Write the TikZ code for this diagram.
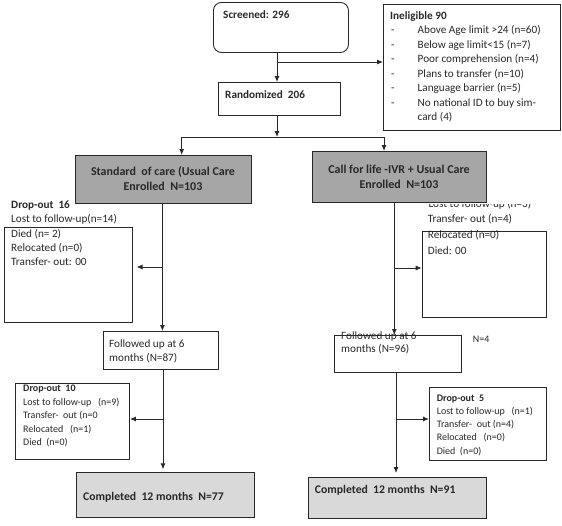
\documentclass[tikz,border=0pt]{standalone}
\usepackage{fontspec}
\setmainfont{Carlito}
\usetikzlibrary{arrows.meta}
\definecolor{grayA}{RGB}{166,166,166}
\definecolor{grayB}{RGB}{217,217,217}
\definecolor{ink}{RGB}{40,40,40}
\begin{document}
\begin{tikzpicture}[x=1pt,y=-1pt,
  box/.style={draw=ink, line width=0.9pt, inner sep=0pt, anchor=north west},
  arr/.style={draw=ink, line width=0.9pt, -{Latex[length=6pt,width=5pt]}},
  ln/.style={draw=ink, line width=0.9pt},
  t/.style={inner sep=0pt, anchor=base west, text=ink, font=\fontsize{11.2}{13}\selectfont},
  tb/.style={t, font=\fontsize{11.2}{13}\selectfont\bfseries},
  tc/.style={tb, anchor=base, font=\fontsize{12}{14}\selectfont\bfseries},
  ts/.style={t, font=\fontsize{10}{12}\selectfont},
  tsb/.style={t, font=\fontsize{10}{12}\selectfont\bfseries},
  tl/.style={tb, font=\fontsize{11.7}{14}\selectfont\bfseries}]
\useasboundingbox (0,0) rectangle (562,525);

% ---- boxes
\node[box, rounded corners=8pt, minimum width=135pt, minimum height=50pt] (scr) at (213,2) {};
\node[box, minimum width=177pt, minimum height=126pt] (inel) at (383,4) {};
\node[box, minimum width=122pt, minimum height=33pt] (rand) at (218,82) {};
\node[box, fill=grayA, minimum width=176pt, minimum height=48pt] (std) at (75,155) {};
% text whose upper part is hidden in the original
\begin{scope}
  \clip (420,204) rectangle (545,215);
  \node[t] (r1) at (428.3,207.7) {Lost to follow-up (n=3)};
\end{scope}
\node[box, fill=grayA, minimum width=174pt, minimum height=51pt] (call) at (312,151) {};
\node[box, minimum width=128pt, minimum height=95pt] (dl) at (3.6,227) {};
\node[box, minimum width=124pt, minimum height=86pt] (dr) at (421.7,231) {};
\node[box, minimum width=115pt, minimum height=38pt] (fu1) at (103,331) {};
\node[box, minimum width=127pt, minimum height=37pt] (fu2) at (334,335) {};
\node[box, minimum width=114pt, minimum height=76pt] (d10) at (15,383) {};
\node[box, minimum width=117pt, minimum height=73pt] (d5) at (429,387) {};
\node[box, fill=grayB, minimum width=178.5pt, minimum height=45pt] (c1) at (75.5,472.3) {};
\node[box, fill=grayB, minimum width=178.4pt, minimum height=41pt] (c2) at (308,477) {};

% ---- texts
\node[tb] (s1) at (223,18.5) {Screened: 296};
\node[tb] (i0) at (390,19.5) {Ineligible 90};
\foreach \k/\s in {0/Above Age limit >24 (n=60),1/Below age limit<15 (n=7),2/Poor comprehension (n=4),3/Plans to transfer (n=10),4/Language barrier (n=5),5/No national ID to buy sim-}{
  \node[t] (id\k) at (391,33.5+14.5*\k) {-};
  \node[t] (it\k) at (417.5,33.5+14.5*\k) {\s};
}
\node[t] (it6) at (417.5,120.8) {card (4)};
\node[tb] (rt) at (225,98) {Randomized\ \ 206};
\node[tc] (st1) at (163,175) {Standard\ \ of care (Usual Care};
\node[tc] (st2) at (163,190.7) {Enrolled\ \ N=103};
\node[tc] (ct1) at (399,173) {Call for life -IVR + Usual Care};
\node[tc] (ct2) at (399,188.5) {Enrolled\ \ N=103};

\node[tb] (l0) at (11,208) {Drop-out\ \ 16};
\node[t] (l1) at (11,222.5) {Lost to follow-up(n=14)};
\node[t] (l2) at (11,237) {Died (n= 2)};
\node[t] (l3) at (11,251.2) {Relocated (n=0)};
\node[t] (l4) at (11,265.8) {Transfer- out: 00};

\node[t] (r2) at (427.7,222.8) {Transfer- out (n=4)};
\node[t] (r3) at (427.7,238.5) {Relocated (n=0)};
\node[t] (r4) at (427.7,254) {Died: 00};

\node[t] (f11) at (109,347.5) {Followed up at 6};
\node[t] (f12) at (109,361.2) {months (N=87)};
\node[t] (f21) at (341,339) {Followed up at 6};
\node[t] (f22) at (341,352.8) {months (N=96)};
\node[ts] (n4) at (472.7,342.5) {N=4};

\node[tsb] (a0) at (23,391.3) {Drop-out\ \ 10};
\node[ts] (a1) at (23,405) {Lost to follow-up\ \ \ (n=9)};
\node[ts] (a2) at (23,418.3) {Transfer-\ \ out (n=0};
\node[ts] (a3) at (23,432) {Relocated\ \ \ (n=1)};
\node[ts] (a4) at (23,445.3) {Died\ \ (n=0)};

\node[tsb] (b0) at (436.6,401.8) {Drop-out\ \ 5};
\node[ts] (b1) at (436.6,414.3) {Lost to follow-up\ \ \ (n=1)};
\node[ts] (b2) at (436.6,427.5) {Transfer-\ \ out (n=4)};
\node[ts] (b3) at (436.6,440.8) {Relocated\ \ \ (n=0)};
\node[ts] (b4) at (436.6,454.2) {Died\ \ (n=0)};

\node[tl] (cc1) at (83,500.8) {Completed\ \ 12 months\ \ N=77};
\node[tl] (cc2) at (314.7,493.3) {Completed\ \ 12 months\ \ N=91};

% ---- connectors
\coordinate (v1) at (277,62);
\coordinate (h)  at (277,137);
\coordinate (hl) at (181.7,137);
\coordinate (hr) at (384,137);
\draw[arr] (v1 |- scr.south) -- (v1 |- rand.north);
\draw[arr] (v1) -- (v1 -| inel.west);
\draw[arr] (v1 |- rand.south) -- (h);
\draw[ln] (hl) -- (hr);
\draw[arr] (hl) -- (hl |- std.north);
\draw[arr] (hr) -- (hr |- call.north);

\coordinate (vl) at (162.4,267);
\draw[arr] (vl |- std.south) -- (vl |- fu1.north);
\draw[arr] (vl) -- ([xshift=4pt]vl -| dl.east);
\coordinate (vr) at (394.3,268);
\draw[arr] (vr |- call.south) -- (vr |- fu2.north);
\draw[arr] (vr) -- (vr -| dr.west);

\coordinate (vl2) at (163,419);
\draw[arr] (vl2 |- fu1.south) -- ([yshift=3pt]vl2 |- c1.north);
\draw[arr] (vl2) -- (vl2 -| d10.east);
\coordinate (vr2) at (396,419);
\draw[arr] (vr2 |- fu2.south) -- ([yshift=4pt]vr2 |- c2.north);
\draw[arr] (vr2) -- (vr2 -| d5.west);
\end{tikzpicture}
\end{document}
